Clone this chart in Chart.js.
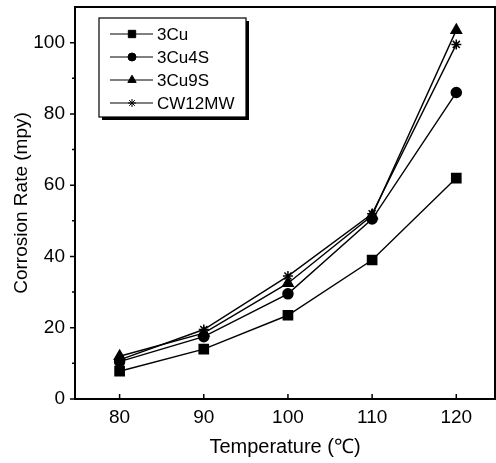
<!DOCTYPE html>
<html>
<head>
<meta charset="utf-8">
<script src="https://cdn.jsdelivr.net/npm/chart.js@4"></script>
<style>
  html, body { margin: 0; padding: 0; background: #fff; }
  #wrap { width: 496px; height: 463px; }
</style>
</head>
<body>
<div id="wrap"><canvas id="corrosionChart" width="496" height="463"></canvas></div>
<script>
// data
const temperatures = [80, 90, 100, 110, 120];
const rate3Cu    = [7.8, 14, 23.5, 39, 62];
const rate3Cu4S  = [10.5, 17.5, 29.5, 50.5, 86];
const rate3Cu9S  = [12, 18.5, 32.5, 51.5, 103.5];
const rateCW12MW = [11, 19.5, 34.5, 52, 99.5];
const seriesNames = ['3Cu', '3Cu4S', '3Cu9S', 'CW12MW'];
const xTicks = [80, 90, 100, 110, 120];
const yTicks = [0, 20, 40, 60, 80, 100];
const yMinorTicks = [10, 30, 50, 70, 90];

const fontFamily = '"Liberation Sans", Arial, sans-serif';

function toPoints(values) {
  return values.map(function (v, i) {
    return { x: temperatures[i], y: v };
  });
}

function makeSet(label, values, style, radius) {
  return {
    label: label,
    data: toPoints(values),
    borderColor: '#000',
    backgroundColor: '#000',
    borderWidth: 1.4,
    pointStyle: style,
    pointRadius: radius,
    pointBorderWidth: 1.5,
    tension: 0,
  };
}

function noPad(scale) {
  scale.paddingTop = 0;
  scale.paddingBottom = 0;
  scale.paddingLeft = 0;
  scale.paddingRight = 0;
}

// frame, ticks and legend box
const framePlugin = {
  id: 'frame',
  afterDraw: function (chart) {
    const ctx = chart.ctx;
    const area = chart.chartArea;
    const xs = chart.scales.x;
    const ys = chart.scales.y;
    ctx.save();
    ctx.strokeStyle = '#000';
    ctx.lineWidth = 2;
    ctx.strokeRect(area.left, area.top, area.right - area.left, area.bottom - area.top);

    ctx.lineWidth = 1.5;
    ctx.beginPath();
    xTicks.forEach(function (v) {
      const px = xs.getPixelForValue(v);
      ctx.moveTo(px, area.bottom);
      ctx.lineTo(px, area.bottom - 5);
    });
    yTicks.forEach(function (v) {
      const py = ys.getPixelForValue(v);
      ctx.moveTo(area.left, py);
      ctx.lineTo(area.left - 5, py);
    });
    yMinorTicks.forEach(function (v) {
      const py = ys.getPixelForValue(v);
      ctx.moveTo(area.left, py);
      ctx.lineTo(area.left - 3, py);
    });
    ctx.stroke();

    // legend
    const bx = 99, by = 18, bw = 147, bh = 99;
    ctx.fillStyle = '#000';
    ctx.fillRect(bx + 3, by + 3, bw, bh);
    ctx.fillStyle = '#fff';
    ctx.fillRect(bx, by, bw, bh);
    ctx.lineWidth = 1.2;
    ctx.strokeRect(bx, by, bw, bh);

    ctx.font = '17px ' + fontFamily;
    ctx.textBaseline = 'middle';
    chart.data.datasets.forEach(function (ds, i) {
      const ry = 34 + i * 23;
      ctx.strokeStyle = '#000';
      ctx.fillStyle = '#000';
      ctx.lineWidth = 1;
      ctx.beginPath();
      ctx.moveTo(110, ry);
      ctx.lineTo(153, ry);
      ctx.stroke();
      Chart.helpers.drawPoint(ctx, {
        pointStyle: ds.pointStyle,
        radius: ds.pointRadius * 0.8,
        borderWidth: 1.2,
        rotation: 0,
      }, 132, ry);
      ctx.fillStyle = '#000';
      ctx.fillText(ds.label, 157, ry + 1);
    });
    ctx.restore();
  }
};

const canvas = document.getElementById('corrosionChart');
new Chart(canvas, {
  type: 'line',
  data: {
    datasets: [
      makeSet(seriesNames[0], rate3Cu, 'rect', 6.5),
      makeSet(seriesNames[1], rate3Cu4S, 'circle', 5),
      makeSet(seriesNames[2], rate3Cu9S, 'triangle', 6),
      makeSet(seriesNames[3], rateCW12MW, 'star', 5),
    ],
  },
  options: {
    responsive: false,
    animation: false,
    layout: { autoPadding: false, padding: { top: 7, right: 1, left: 0, bottom: 0 } },
    plugins: {
      legend: { display: false },
      tooltip: { enabled: false },
    },
    scales: {
      x: {
        type: 'linear',
        min: 74.7,
        max: 124.6,
        afterBuildTicks: function (scale) {
          scale.ticks = xTicks.map(function (v) { return { value: v }; });
        },
        afterFit: function (scale) { scale.height = 64; noPad(scale); },
        grid: { display: false, drawTicks: false },
        border: { display: false },
        ticks: {
          color: '#000',
          font: { family: fontFamily, size: 19 },
          padding: 7,
          maxRotation: 0,
        },
        title: {
          display: true,
          text: 'Temperature (℃)',
          color: '#000',
          font: { family: fontFamily, size: 20 },
          padding: { top: 4, bottom: 4 },
        },
      },
      y: {
        min: 0,
        max: 110,
        afterBuildTicks: function (scale) {
          scale.ticks = yTicks.map(function (v) { return { value: v }; });
        },
        afterFit: function (scale) { scale.width = 75; noPad(scale); },
        grid: { display: false, drawTicks: false },
        border: { display: false },
        ticks: {
          color: '#000',
          font: { family: fontFamily, size: 19 },
          padding: 10,
        },
        title: {
          display: true,
          text: 'Corrosion Rate (mpy)',
          color: '#000',
          font: { family: fontFamily, size: 19 },
          padding: { top: 10, bottom: 4 },
        },
      },
    },
  },
  plugins: [framePlugin],
});
</script>
</body>
</html>
